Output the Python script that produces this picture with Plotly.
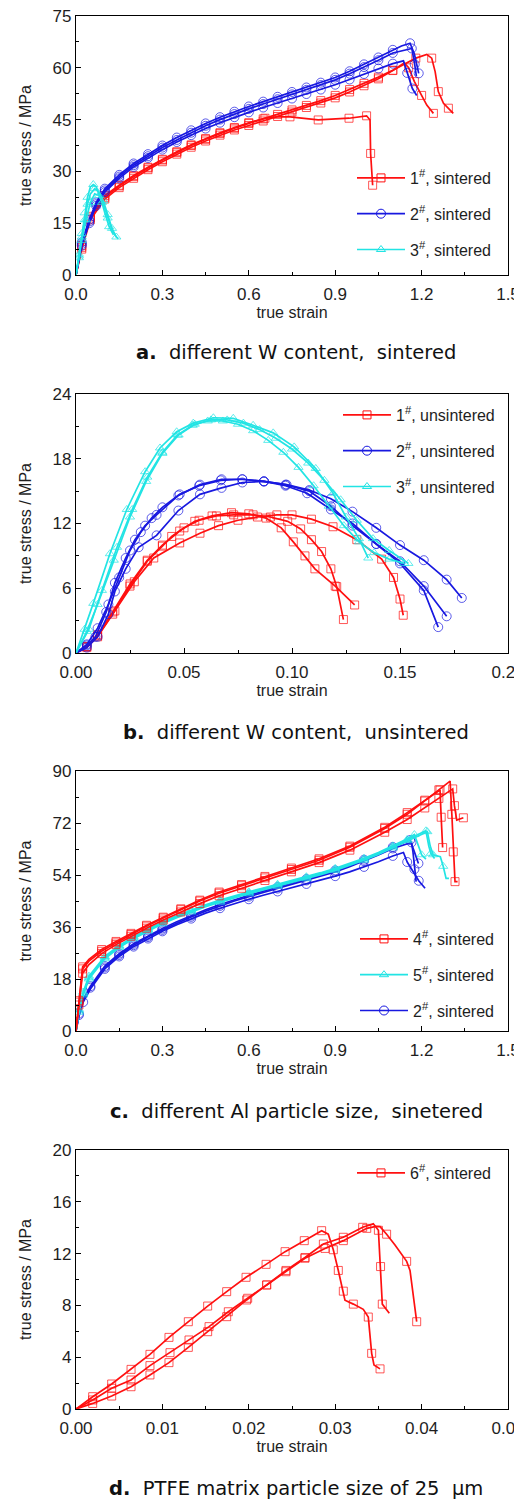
import math
import plotly.graph_objects as go

# ---------------- data ----------------
# Panel a: different W content, sintered
A_R1_X = [0, 0.02, 0.05, 0.1, 0.15, 0.2, 0.25, 0.3, 0.35, 0.4, 0.45, 0.5, 0.55, 0.6, 0.656, 0.7, 0.743, 0.841, 0.948, 1.009, 1.021, 1.023, 1.03]
A_R1_Y = [0, 8.5, 17, 23, 26, 28.8, 31.2, 33.5, 35.7, 37.7, 39.5, 41.2, 42.7, 44.1, 45.4, 45.8, 45.8, 44.9, 45.4, 46.1, 44.9, 35.2, 26]
A_R2_X = [0, 0.02, 0.05, 0.1, 0.15, 0.2, 0.25, 0.3, 0.35, 0.4, 0.45, 0.5, 0.55, 0.6, 0.65, 0.7, 0.75, 0.8, 0.85, 0.9, 0.95, 1.0, 1.05, 1.1, 1.136, 1.18, 1.218, 1.235, 1.247, 1.258, 1.276, 1.293, 1.31]
A_R2_Y = [0, 8, 16.5, 22.5, 25.8, 28.5, 31, 33.3, 35.5, 37.5, 39.3, 41, 42.5, 43.9, 45.2, 46.5, 47.8, 49.1, 50.5, 52, 53.7, 55.5, 57.3, 59.3, 60.9, 62.8, 63.9, 62.8, 58.9, 53.1, 49.7, 48.3, 46.8]
A_R3_X = [0, 0.02, 0.05, 0.1, 0.15, 0.2, 0.25, 0.3, 0.35, 0.4, 0.45, 0.5, 0.55, 0.6, 0.65, 0.7, 0.75, 0.8, 0.85, 0.9, 0.95, 1.0, 1.05, 1.1, 1.14, 1.155, 1.175, 1.2, 1.218, 1.241]
A_R3_Y = [0, 7.5, 16, 22, 25.3, 28, 30.5, 32.8, 35, 37, 38.8, 40.5, 42, 43.3, 44.6, 45.9, 47.2, 48.5, 49.8, 51.3, 53, 54.8, 56.8, 59.2, 61.4, 60, 56, 52, 49.2, 46.8]
A_B1_X = [0, 0.02, 0.046, 0.07, 0.1, 0.15, 0.2, 0.25, 0.3, 0.35, 0.4, 0.45, 0.5, 0.55, 0.6, 0.65, 0.7, 0.75, 0.8, 0.85, 0.9, 0.95, 1.0, 1.05, 1.1, 1.13, 1.16, 1.175, 1.19]
A_B1_Y = [0, 9.5, 16, 21, 25, 29, 32.3, 35, 37.5, 39.8, 41.9, 43.9, 45.7, 47.3, 48.8, 50.2, 51.6, 53, 54.3, 55.7, 57.2, 59, 61, 63, 65.2, 66.3, 67.1, 64, 58.4]
A_B2_X = [0, 0.02, 0.046, 0.07, 0.1, 0.15, 0.2, 0.25, 0.3, 0.35, 0.4, 0.45, 0.5, 0.55, 0.6, 0.65, 0.7, 0.75, 0.8, 0.85, 0.9, 0.95, 1.0, 1.05, 1.1, 1.14, 1.166, 1.176, 1.182]
A_B2_Y = [0, 9, 15.5, 20.5, 24.5, 28.5, 31.8, 34.4, 36.9, 39.1, 41.2, 43.2, 45, 46.6, 48.1, 49.5, 50.9, 52.3, 53.6, 55, 56.5, 58.3, 60.2, 62.2, 64.3, 65, 65.6, 61, 57.5]
A_B3_X = [0, 0.02, 0.046, 0.07, 0.1, 0.15, 0.2, 0.25, 0.3, 0.35, 0.4, 0.45, 0.5, 0.55, 0.6, 0.65, 0.7, 0.75, 0.8, 0.85, 0.9, 0.95, 1.0, 1.05, 1.1, 1.137, 1.15, 1.168, 1.183]
A_B3_Y = [0, 8.5, 15, 20, 24, 28, 31.3, 33.9, 36.3, 38.5, 40.5, 42.4, 44.1, 45.7, 47.1, 48.5, 49.8, 51.1, 52.4, 53.7, 55.1, 56.6, 58.2, 59.8, 61.2, 62, 58.5, 54, 52]
A_C1_X = [0, 0.01, 0.02, 0.03, 0.04, 0.05, 0.06, 0.07, 0.08, 0.09, 0.1, 0.115, 0.13]
A_C1_Y = [0, 6, 12, 18, 22.5, 25.5, 26.2, 25.5, 23.5, 21, 18, 14, 11.6]
A_C2_X = [0, 0.01, 0.02, 0.03, 0.04, 0.05, 0.065, 0.08, 0.095, 0.11, 0.125, 0.14, 0.147]
A_C2_Y = [0, 5.5, 11, 16, 20.5, 23.5, 25, 24, 21.5, 17.5, 13.5, 11, 10.5]
A_C3_X = [0, 0.01, 0.02, 0.035, 0.05, 0.065, 0.08, 0.095, 0.11, 0.125, 0.14]
A_C3_Y = [0, 5, 10, 16, 21, 23.5, 23, 20.5, 16.5, 13, 11]

# Panel b: different W content, unsintered
B_R1_X = [0, 0.005, 0.01, 0.017, 0.025, 0.033, 0.04, 0.048, 0.055, 0.063, 0.072, 0.08, 0.088, 0.095, 0.1006, 0.106, 0.1106, 0.12, 0.129]
B_R1_Y = [0, 0.6, 1.7, 3.8, 6.4, 8.6, 10.0, 11.3, 12.2, 12.7, 13.0, 12.9, 12.5, 11.6, 10.3, 9.0, 7.8, 6.2, 4.45]
B_R2_X = [0, 0.005, 0.01, 0.017, 0.025, 0.033, 0.04, 0.0443, 0.05, 0.057, 0.065, 0.073, 0.082, 0.09, 0.098, 0.104, 0.109, 0.1137, 0.118, 0.1207, 0.1238]
B_R2_Y = [0, 0.6, 1.6, 3.6, 6.2, 8.5, 9.9, 10.8, 11.6, 12.3, 12.7, 12.8, 12.8, 12.6, 12.2, 11.5, 10.5, 9.4, 7.8, 6.15, 3.1]
B_R3_X = [0, 0.005, 0.01, 0.018, 0.027, 0.036, 0.048, 0.0574, 0.066, 0.075, 0.084, 0.093, 0.1, 0.109, 0.119, 0.13, 0.1415, 0.147, 0.15, 0.1515]
B_R3_Y = [0, 0.5, 1.5, 3.9, 6.6, 8.8, 10.2, 11.1, 11.8, 12.3, 12.6, 12.8, 12.8, 12.4, 11.7, 10.5, 8.7, 7.0, 5.0, 3.5]
B_B1_X = [0, 0.005, 0.01, 0.015, 0.02, 0.025, 0.03, 0.035, 0.04, 0.048, 0.057, 0.067, 0.077, 0.087, 0.0975, 0.108, 0.118, 0.128, 0.139, 0.15, 0.161, 0.1716, 0.1786]
B_B1_Y = [0, 0.8, 2.3, 4.5, 7.0, 9.5, 11.2, 12.5, 13.5, 14.7, 15.5, 16.0, 16.1, 15.9, 15.6, 15.1, 14.3, 13.1, 11.6, 10.0, 8.6, 6.8, 5.1]
B_B2_X = [0, 0.005, 0.009, 0.014, 0.018, 0.023, 0.0273, 0.032, 0.0373, 0.0474, 0.0574, 0.0674, 0.077, 0.087, 0.097, 0.107, 0.118, 0.128, 0.139, 0.15, 0.161, 0.1716]
B_B2_Y = [0, 0.7, 1.5, 3.8, 6.5, 8.8, 10.5, 11.8, 12.8, 14.6, 15.6, 16.1, 16.1, 15.9, 15.5, 14.8, 13.3, 12.0, 10.1, 8.5, 6.2, 3.4]
B_B3_X = [0, 0.005, 0.01, 0.015, 0.018, 0.023, 0.029, 0.0373, 0.0474, 0.0574, 0.0674, 0.077, 0.087, 0.097, 0.108, 0.118, 0.128, 0.139, 0.15, 0.161, 0.1677]
B_B3_Y = [0, 0.5, 1.5, 3.6, 5.7, 7.8, 9.8, 10.9, 13.2, 14.7, 15.3, 15.8, 15.9, 15.6, 15.0, 13.6, 11.8, 10.1, 8.3, 5.8, 2.4]
B_C1_X = [0, 0.004, 0.008, 0.0157, 0.0235, 0.032, 0.0389, 0.0466, 0.0543, 0.0636, 0.0728, 0.082, 0.0913, 0.101, 0.111, 0.119, 0.125, 0.131, 0.1353]
B_C1_Y = [0, 2.2, 4.6, 9.2, 13.3, 16.8, 19.0, 20.5, 21.3, 21.8, 21.75, 21.1, 20.4, 19.1, 17.1, 14.8, 12.6, 10.6, 8.8]
B_C2_X = [0, 0.005, 0.01, 0.0175, 0.025, 0.0325, 0.04, 0.0475, 0.055, 0.0625, 0.07, 0.0775, 0.085, 0.0925, 0.1, 0.1075, 0.115, 0.1225, 0.13, 0.1375, 0.145, 0.1539]
B_C2_Y = [0, 2.0, 4.5, 8.6, 12.6, 15.9, 18.5, 20.2, 21.2, 21.6, 21.6, 21.3, 20.7, 19.9, 18.9, 17.6, 16.0, 14.2, 12.3, 10.6, 9.5, 8.3]
B_C3_X = [0, 0.006, 0.012, 0.019, 0.026, 0.033, 0.04, 0.047, 0.054, 0.061, 0.068, 0.075, 0.082, 0.089, 0.096, 0.103, 0.11, 0.117, 0.124, 0.131, 0.138, 0.145, 0.152]
B_C3_Y = [0, 2.2, 5.8, 9.8, 13.3, 16.3, 18.6, 20.2, 21.1, 21.5, 21.5, 21.2, 20.6, 19.7, 18.6, 17.2, 15.5, 13.6, 11.8, 10.3, 9.3, 8.7, 8.3]

# Panel c: different Al particle size, sintered
C_R1_X = [0, 0.01, 0.023, 0.045, 0.089, 0.139, 0.191, 0.245, 0.303, 0.364, 0.43, 0.497, 0.575, 0.656, 0.748, 0.844, 0.951, 1.072, 1.15, 1.211, 1.26, 1.299, 1.305, 1.31, 1.316, 1.325]
C_R1_Y = [0, 10, 21.5, 24.2, 27.6, 30.5, 33.4, 36.3, 39.1, 42, 45, 47.7, 50.3, 53, 55.9, 59.1, 63.6, 70.1, 75, 79.6, 83.5, 86.5, 75, 62, 51.7, 51.7]
C_R2_X = [0, 0.01, 0.023, 0.045, 0.089, 0.139, 0.191, 0.245, 0.303, 0.364, 0.43, 0.497, 0.575, 0.656, 0.748, 0.844, 0.951, 1.072, 1.15, 1.211, 1.26, 1.308, 1.314, 1.322, 1.345]
C_R2_Y = [0, 9, 20, 23, 26.8, 29.9, 32.8, 35.6, 38.4, 41.2, 44.1, 46.8, 49.4, 52.1, 55.1, 58.3, 62.6, 68.8, 73.2, 77.2, 80.5, 83.8, 78, 73, 73.8]
C_R3_X = [0, 0.01, 0.023, 0.045, 0.089, 0.139, 0.191, 0.245, 0.303, 0.364, 0.43, 0.497, 0.575, 0.656, 0.748, 0.844, 0.951, 1.072, 1.15, 1.211, 1.264, 1.268, 1.273]
C_R3_Y = [0, 10.5, 22.2, 24.8, 28.2, 31, 33.8, 36.6, 39.4, 42.3, 45.3, 48.1, 50.7, 53.5, 56.4, 59.6, 64, 70.5, 75.6, 79.9, 83.4, 74, 63.5]
C_C1_X = [0, 0.01, 0.025, 0.045, 0.1, 0.15, 0.2, 0.25, 0.3, 0.35, 0.4, 0.45, 0.5, 0.55, 0.6, 0.65, 0.7, 0.75, 0.8, 0.85, 0.9, 0.95, 1.0, 1.05, 1.1, 1.15, 1.215, 1.225, 1.232, 1.245]
C_C1_Y = [0, 7, 13, 18.5, 25.5, 29.3, 32.3, 35, 37.5, 39.6, 41.6, 43.4, 45, 46.5, 47.9, 49.2, 50.5, 51.8, 53.1, 54.5, 56, 57.7, 59.5, 61.5, 63.8, 66.3, 69.3, 64, 61.5, 59.7]
C_C2_X = [0, 0.01, 0.025, 0.045, 0.1, 0.15, 0.2, 0.25, 0.3, 0.35, 0.4, 0.45, 0.5, 0.55, 0.6, 0.65, 0.7, 0.75, 0.8, 0.85, 0.9, 0.95, 1.0, 1.05, 1.1, 1.15, 1.22, 1.23, 1.24, 1.265, 1.275, 1.285, 1.295]
C_C2_Y = [0, 6.5, 12.5, 18, 25, 28.9, 31.9, 34.6, 37.1, 39.2, 41.2, 43, 44.6, 46.1, 47.5, 48.8, 50.1, 51.4, 52.7, 54.1, 55.6, 57.3, 59.1, 61.1, 63.4, 65.9, 69, 64, 61, 60.3, 57, 52.8, 52.8]
C_C3_X = [0, 0.01, 0.025, 0.045, 0.1, 0.15, 0.2, 0.25, 0.3, 0.35, 0.4, 0.45, 0.5, 0.55, 0.6, 0.65, 0.7, 0.75, 0.8, 0.85, 0.9, 0.95, 1.0, 1.05, 1.1, 1.14, 1.175, 1.19, 1.2, 1.215]
C_C3_Y = [0, 7.5, 13.5, 19, 25.8, 29.6, 32.6, 35.3, 37.8, 39.9, 41.9, 43.7, 45.3, 46.8, 48.2, 49.5, 50.8, 52.1, 53.4, 54.8, 56.3, 58, 59.8, 61.8, 64.1, 66, 68, 64, 61, 59.5]
C_B1_X = [0, 0.01, 0.025, 0.05, 0.1, 0.15, 0.2, 0.25, 0.3, 0.35, 0.4, 0.45, 0.5, 0.55, 0.6, 0.65, 0.7, 0.75, 0.8, 0.85, 0.9, 0.95, 1.0, 1.05, 1.1, 1.16, 1.175, 1.189]
C_B1_Y = [0, 6, 11, 15.5, 22.5, 26.8, 30.2, 33, 35.5, 37.8, 40, 42, 43.8, 45.5, 47, 48.4, 49.8, 51.2, 52.6, 54, 55.6, 57.4, 59.3, 61.4, 63.7, 66.1, 62, 58]
C_B2_X = [0, 0.01, 0.025, 0.05, 0.1, 0.15, 0.2, 0.25, 0.3, 0.35, 0.4, 0.45, 0.5, 0.55, 0.6, 0.65, 0.7, 0.75, 0.8, 0.85, 0.9, 0.95, 1.0, 1.05, 1.1, 1.165, 1.17, 1.175, 1.181]
C_B2_Y = [0, 5.5, 10.5, 15, 22, 26.3, 29.7, 32.5, 35, 37.3, 39.5, 41.5, 43.3, 45, 46.5, 47.9, 49.3, 50.7, 52.1, 53.5, 55.1, 56.9, 58.8, 60.9, 63.2, 65.3, 62, 56, 51.7]
C_B3_X = [0, 0.01, 0.025, 0.05, 0.1, 0.15, 0.2, 0.25, 0.3, 0.35, 0.4, 0.45, 0.5, 0.55, 0.6, 0.65, 0.7, 0.75, 0.8, 0.85, 0.9, 0.95, 1.0, 1.05, 1.1, 1.137, 1.15, 1.17, 1.19, 1.212]
C_B3_Y = [0, 5, 10, 14.5, 21.5, 25.8, 29.2, 32, 34.5, 36.8, 38.9, 40.8, 42.5, 44.1, 45.6, 47, 48.3, 49.6, 50.9, 52.2, 53.6, 55.1, 56.8, 58.6, 60.6, 61.8, 58.5, 55, 52, 49.4]

# Panel d: PTFE matrix particle size of 25 um
D_1_X = [0, 0.00193, 0.00413, 0.00637, 0.00856, 0.01076, 0.013, 0.01524, 0.01744, 0.01968, 0.022, 0.0242, 0.02642, 0.02843, 0.0292, 0.02978, 0.03036, 0.03094, 0.03113, 0.0321, 0.03325, 0.03383, 0.03422, 0.03449, 0.03519]
D_1_Y = [0, 0.95, 1.93, 3.06, 4.22, 5.53, 6.74, 7.95, 9.06, 10.17, 11.17, 12.15, 13.0, 13.77, 13.5, 12.3, 10.7, 9.1, 8.4, 8.1, 7.7, 7.1, 4.3, 3.4, 3.1]
D_2_X = [0, 0.00193, 0.00413, 0.00637, 0.00856, 0.01088, 0.01308, 0.0154, 0.01763, 0.01987, 0.02207, 0.0243, 0.0265, 0.02863, 0.03094, 0.03318, 0.03441, 0.035, 0.03525, 0.03545, 0.03626]
D_2_Y = [0, 0.7, 1.6, 2.24, 3.35, 4.35, 5.33, 6.36, 7.51, 8.55, 9.58, 10.7, 11.7, 12.74, 13.26, 14.03, 14.3, 13.8, 11, 8.1, 7.4]
D_3_X = [0, 0.00193, 0.00413, 0.00637, 0.00856, 0.01076, 0.013, 0.01524, 0.01744, 0.01975, 0.02207, 0.0243, 0.0265, 0.02882, 0.03094, 0.03365, 0.03472, 0.03519, 0.03595, 0.03692, 0.03827, 0.03866, 0.03943]
D_3_Y = [0, 0.43, 1.0, 1.72, 2.63, 3.58, 4.76, 5.97, 7.13, 8.42, 9.58, 10.6, 11.64, 12.4, 13.0, 13.95, 14.1, 14.08, 13.5, 12.66, 11.4, 10.7, 6.74]

X_TITLE = "true strain"
Y_TITLE = "true stress / MPa"
NB = "\u00a0"
CAPTIONS = [
    "<b>a.</b>" + NB * 2 + "different W content," + NB * 2 + "sintered",
    "<b>b.</b>" + NB * 2 + "different W content," + NB * 2 + "unsintered",
    "<b>c.</b>" + NB * 2 + "different Al particle size," + NB * 2 + "sinetered",
    "<b>d.</b>" + NB * 2 + "PTFE matrix particle size of 25" + NB * 2 + "μm",
]
LEG_A = ["1<sup>#</sup>, sintered", "2<sup>#</sup>, sintered", "3<sup>#</sup>, sintered"]
LEG_B = ["1<sup>#</sup>, unsintered", "2<sup>#</sup>, unsintered", "3<sup>#</sup>, unsintered"]
LEG_C = ["4<sup>#</sup>, sintered", "5<sup>#</sup>, sintered", "2<sup>#</sup>, sintered"]
LEG_D = ["6<sup>#</sup>, sintered"]

# ---------------- layout / style ----------------
OFF = 8                    # the page body adds an 8 px margin at left and top
W, H = 522 - OFF, 1501 - OFF
PL, PR = 76 - OFF, 508 - OFF
PT, PB = 16 - OFF, 1409 - OFF
PANELS = [(16 - OFF, 275 - OFF), (394 - OFF, 653 - OFF), (771 - OFF, 1031 - OFF), (1150 - OFF, 1409 - OFF)]
XR = [(0, 1.5), (0, 0.2), (0, 1.5), (0, 0.05)]
YR = [(0, 75), (0, 24), (0, 90), (0, 20)]
XD = [(0.3, 0.15, ".1f"), (0.05, 0.025, ".2f"), (0.3, 0.15, ".1f"), (0.01, 0.005, ".2f")]
YD = [(15, 7.5), (6, 3), (18, 9), (4, 2)]


def fx(px):
    return (px - OFF - PL) / (PR - PL)


def fy(py):
    return (PB - (py - OFF)) / (PB - PT)


RED = "#ff1010"
BLUE = "#1818e0"
CYAN = "#22e4e4"
STY = {
    "r": (RED, "square-open", 8),
    "b": (BLUE, "circle-open", 9),
    "c": (CYAN, "triangle-up-open", 8),
}
FONT = "Liberation Sans, Arial, sans-serif"
TXT = "#1e1e1e"

fig = go.Figure()


def msizes(x, y, p, size, gap):
    sx = (PR - PL) / (XR[p][1] - XR[p][0])
    sy = (PANELS[p][1] - PANELS[p][0]) / (YR[p][1] - YR[p][0])
    out = [0]
    acc = 0.0
    for i in range(1, len(x)):
        acc += math.hypot((x[i] - x[i - 1]) * sx, (y[i] - y[i - 1]) * sy)
        if acc >= gap:
            out.append(size)
            acc = 0.0
        else:
            out.append(0)
    return out


def axn(p):
    return ("x", "y") if p == 0 else (f"x{p+1}", f"y{p+1}")


def curve(x, y, p, key, gap=14):
    color, sym, size = STY[key]
    xa, ya = axn(p)
    fig.add_trace(go.Scatter(
        x=x, y=y, mode="lines+markers", showlegend=False, hoverinfo="skip",
        xaxis=xa, yaxis=ya,
        line=dict(color=color, width=1.7),
        marker=dict(symbol=sym, size=msizes(x, y, p, size, gap), color=color,
                    line=dict(color=color, width=1)),
    ))


def legend_entry(name, p, key, legend_name, group):
    color, sym, size = STY[key]
    xa, ya = axn(p)
    fig.add_trace(go.Scatter(
        x=[None], y=[None], mode="lines+markers", name=name,
        legend=legend_name, legendgroup=group, xaxis=xa, yaxis=ya,
        line=dict(color=color, width=1.7),
        marker=dict(symbol=sym, size=size, color=color, line=dict(color=color, width=1)),
    ))


for x, y, k in [(A_R1_X, A_R1_Y, "r"), (A_R2_X, A_R2_Y, "r"), (A_R3_X, A_R3_Y, "r"),
                (A_B1_X, A_B1_Y, "b"), (A_B2_X, A_B2_Y, "b"), (A_B3_X, A_B3_Y, "b"),
                (A_C1_X, A_C1_Y, "c"), (A_C2_X, A_C2_Y, "c"), (A_C3_X, A_C3_Y, "c")]:
    curve(x, y, 0, k)
for x, y, k in [(B_R1_X, B_R1_Y, "r"), (B_R2_X, B_R2_Y, "r"), (B_R3_X, B_R3_Y, "r"),
                (B_B1_X, B_B1_Y, "b"), (B_B2_X, B_B2_Y, "b"), (B_B3_X, B_B3_Y, "b"),
                (B_C1_X, B_C1_Y, "c"), (B_C2_X, B_C2_Y, "c"), (B_C3_X, B_C3_Y, "c")]:
    curve(x, y, 1, k, gap=12)
for x, y, k in [(C_B1_X, C_B1_Y, "b"), (C_B2_X, C_B2_Y, "b"), (C_B3_X, C_B3_Y, "b"),
                (C_C1_X, C_C1_Y, "c"), (C_C2_X, C_C2_Y, "c"), (C_C3_X, C_C3_Y, "c"),
                (C_R1_X, C_R1_Y, "r"), (C_R2_X, C_R2_Y, "r"), (C_R3_X, C_R3_Y, "r")]:
    curve(x, y, 2, k, gap=16)
for x, y in [(D_1_X, D_1_Y), (D_2_X, D_2_Y), (D_3_X, D_3_Y)]:
    curve(x, y, 3, "r", gap=14)

for i, (nm, k) in enumerate(zip(LEG_A, ["r", "b", "c"])):
    legend_entry(nm, 0, k, "legend", f"a{i}")
for i, (nm, k) in enumerate(zip(LEG_B, ["r", "b", "c"])):
    legend_entry(nm, 1, k, "legend2", f"b{i}")
for i, (nm, k) in enumerate(zip(LEG_C, ["r", "c", "b"])):
    legend_entry(nm, 2, k, "legend3", f"c{i}")
legend_entry(LEG_D[0], 3, "r", "legend4", "d0")

layout = dict(
    template="none",
    width=W, height=H,
    margin=dict(l=PL, r=W - PR, t=PT, b=H - PB, pad=0, autoexpand=False),
    paper_bgcolor="white", plot_bgcolor="white",
    font=dict(family=FONT, size=16, color=TXT),
    showlegend=True,
)
for p in range(4):
    top, bot = PANELS[p]
    sfx = "" if p == 0 else str(p + 1)
    xd, xm, xf = XD[p]
    yd, ym = YD[p]
    common = dict(
        ticks="inside", ticklen=5, tickwidth=1.2, tickcolor="black",
        showline=True, mirror=True, linecolor="black", linewidth=1.3,
        showgrid=False, zeroline=False, automargin=False,
        ticklabeloverflow="allow",
        tickfont=dict(size=17, color=TXT, family=FONT),
    )
    layout["xaxis" + sfx] = dict(
        domain=[0, 1], anchor="y" + sfx, range=list(XR[p]),
        dtick=xd, tick0=0, tickformat=xf, ticklabelstandoff=3,
        minor=dict(dtick=xm, tick0=0, ticks="inside", ticklen=3, tickwidth=1.2,
                   tickcolor="black", showgrid=False),
        title=dict(text=X_TITLE, standoff=2, font=dict(size=16, color=TXT, family=FONT)),
        **common,
    )
    layout["yaxis" + sfx] = dict(
        domain=[(PB - bot) / (PB - PT), (PB - top) / (PB - PT)], anchor="x" + sfx,
        range=list(YR[p]), dtick=yd, tick0=0,
        minor=dict(dtick=ym, tick0=0, ticks="inside", ticklen=3, tickwidth=1.2,
                   tickcolor="black", showgrid=False),
        title=dict(text=Y_TITLE, standoff=16, font=dict(size=16, color=TXT, family=FONT)),
        **common,
    )

# legend top-left corners, in reference pixels
LEG_POS = [(352, 161), (338, 398), (355, 922), (352, 1156)]
for p, (lx, ly) in enumerate(LEG_POS):
    key = "legend" if p == 0 else f"legend{p+1}"
    layout[key] = dict(
        x=fx(lx), y=fy(ly), xanchor="left", yanchor="top",
        bgcolor="rgba(0,0,0,0)", borderwidth=0, itemwidth=48,
        tracegroupgap=12, font=dict(size=16, family=FONT, color=TXT),
    )

# caption centres, in reference pixels
CAP_Y = [352, 732, 1111, 1489]
layout["annotations"] = [
    dict(text=CAPTIONS[p], x=fx(296), y=fy(CAP_Y[p]), xref="paper", yref="paper",
         xanchor="center", yanchor="middle", showarrow=False,
         font=dict(size=19.5, family="DejaVu Sans, Noto Sans, sans-serif", color="#111"))
    for p in range(4)
]

fig.update_layout(**layout)
fig.write_html("out.html")
